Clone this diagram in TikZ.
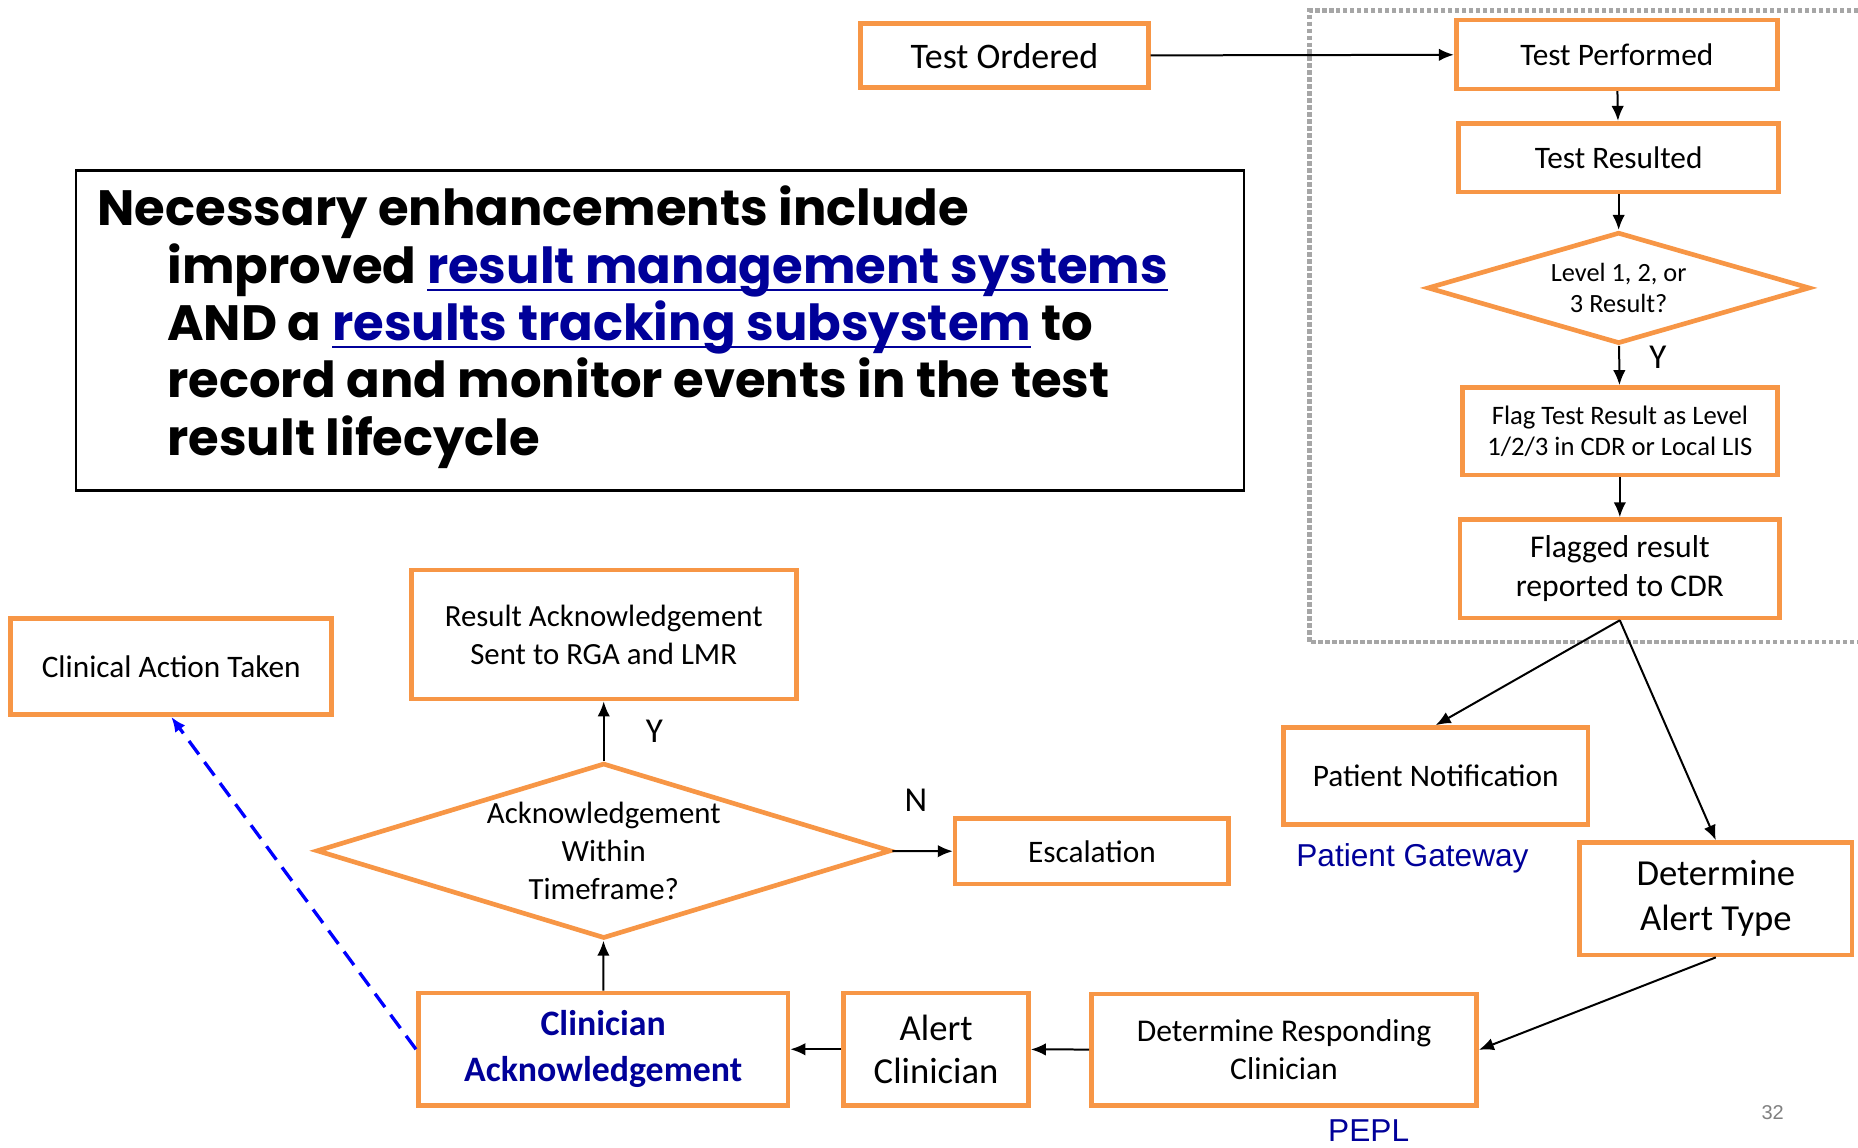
\documentclass[tikz,border=0pt]{standalone}
\usepackage{fontspec}
\setmainfont{Carlito}
\newfontfamily\arialfont{Liberation Sans}
\newfontfamily\gothicfont{Poppins}
\usepackage{tikz}
\usetikzlibrary{arrows,arrows.meta}
\usetikzlibrary{shapes.geometric,positioning}
\definecolor{boxorange}{HTML}{F79646}
\definecolor{linkblue}{RGB}{0,0,153}
\definecolor{framegray}{HTML}{A6A6A6}
\newcommand\linktext[1]{{\color{linkblue}\setbox0\hbox{#1}\rlap{\rule[-4.5pt]{\wd0}{1.3pt}}\box0}}

\begin{document}
\begin{tikzpicture}[
  box/.style={draw=boxorange, line width=2.8pt, inner sep=0pt, align=center,
    font=\fontsize{18.8}{22.7}\selectfont},
  dia/.style={diamond, draw=boxorange, line width=2.8pt, inner sep=0pt, align=center},
  flow/.style={-{Latex[length=9pt,width=7.5pt]}, line width=1.2pt},
  yn/.style={font=\fontsize{21}{25}\selectfont},
  sysname/.style={text=linkblue, font=\arialfont\fontsize{19}{23}\selectfont}
]
\useasboundingbox (0,0) rectangle (39.2,24.2);
\draw[framegray, line width=2.6pt, dash pattern=on 2.6pt off 1.6pt]
  (39.5,23.975) -| (27.625,10.65) -- (39.5,10.65);%点線の枠

%右の流れ
\node[box, minimum width=6.075cm, minimum height=1.35cm, font=\fontsize{21.6}{26}\selectfont]
  (ordered) at (21.19,23.025) {Test Ordered};
\node[box, minimum width=6.775cm, minimum height=1.45cm] (performed) at (34.11,23.05) {Test Performed};
\node[box, minimum width=6.75cm, minimum height=1.45cm] (resulted) at (34.15,20.875) {Test Resulted};
\node[dia, aspect=3.436, minimum width=8.075cm, minimum height=2.35cm, font=\fontsize{15.8}{19}\selectfont]
  (level) at (34.15,18.125) {Level 1, 2, or\\3 Result?};
\node[box, minimum width=6.65cm, minimum height=1.85cm, font=\fontsize{16}{18.8}\selectfont]
  (flag) at (34.175,15.1) {Flag Test Result as Level\\1/2/3 in CDR or Local LIS};
\node[box, minimum width=6.75cm, minimum height=2.075cm, font=\fontsize{19}{23.4}\selectfont]
  (flagged) at (34.175,12.2) {Flagged result\\reported to CDR};
\node[box, minimum width=6.425cm, minimum height=2.05cm] (patient) at (30.29,7.825) {Patient Notification};
\node[sysname] (gateway) at (29.8,6.1) {Patient Gateway};
\node[box, minimum width=5.75cm, minimum height=2.375cm, font=\fontsize{22}{27}\selectfont]
  (alerttype) at (36.2,5.2375) {Determine\\Alert Type};

%下の流れ
\node[box, minimum width=8.125cm, minimum height=2.35cm, font=\fontsize{19}{22.7}\selectfont]
  (responder) at (27.09,2.05) {Determine Responding\\Clinician};
\node[sysname] (pepl) at (28.875,0.34) {PEPL};
\node[box, minimum width=3.9cm, minimum height=2.375cm, font=\fontsize{22}{26}\selectfont]
  (alert) at (19.75,2.0625) {Alert\\Clinician};
\node[box, minimum width=7.8cm, minimum height=2.375cm, text=linkblue,
  font=\bfseries\fontsize{21.5}{27.7}\selectfont]
  (clinack) at (12.725,2.0625) {Clinician\\Acknowledgement};
\node[dia, aspect=3.277, minimum width=12.125cm, minimum height=3.7cm, inner sep=-4pt,
  font=\fontsize{18.5}{22.7}\selectfont]
  (intime) at (12.7375,6.25) {Acknowledgement\\Within\\Timeframe?};
\node[box, minimum width=8.125cm, minimum height=2.725cm, font=\fontsize{18.5}{22.7}\selectfont]
  (sent) at (12.7375,10.8125) {Result Acknowledgement\\Sent to RGA and LMR};
\node[box, minimum width=6.775cm, minimum height=2.025cm] (action) at (3.6125,10.1375) {Clinical Action Taken};
\node[box, minimum width=5.775cm, minimum height=1.375cm] (escalation) at (23.0375,6.2375) {Escalation};

%説明の枠
\draw[line width=1.4pt] (1.6,13.85) rectangle (26.25,20.6);
\node[anchor=north west, inner sep=0pt, align=left,
  font=\gothicfont\bfseries\fontsize{29.8}{34.4}\selectfont] (note) at (2.05,20.28)
  {Necessary enhancements include\\
   \hspace*{1.475cm}improved \linktext{result management systems}\\
   \hspace*{1.475cm}AND a \linktext{results tracking subsystem} to\\
   \hspace*{1.475cm}record and monitor events in the test\\
   \hspace*{1.475cm}result lifecycle};

\node[text=gray, font=\arialfont\fontsize{12}{14}\selectfont] (page) at (37.4,0.725) {32};

%矢印
\draw[flow] (ordered) -- (performed);
\draw[flow] (performed) -- (resulted);
\draw[flow] (resulted) -- (level);
\draw[flow] (level) -- node[yn, pos=0.3, right=0.5cm] {Y} (flag);
\draw[flow] (flag) -- (flagged);
\draw[flow] (flagged.south) -- (patient.north);
\draw[flow] (flagged.south) -- (alerttype.north);
\draw[flow] (alerttype.south) -- (responder.east);
\draw[flow] (responder) -- (alert);
\draw[flow] (alert) -- (clinack);
\draw[flow] (clinack) -- (intime);
\draw[flow] (intime) -- node[yn, pos=0.5, right=0.75cm] {Y} (sent);
\draw[flow] (intime) -- node[yn, pos=0.39, above=0.7cm] {N} (escalation);
\draw[-{Latex[length=9pt,width=7.5pt]}, blue, line width=2pt, dash pattern=on 10pt off 5.7pt]
  (clinack.west) -- (action.south);%点線の矢印
\end{tikzpicture}
\end{document}
